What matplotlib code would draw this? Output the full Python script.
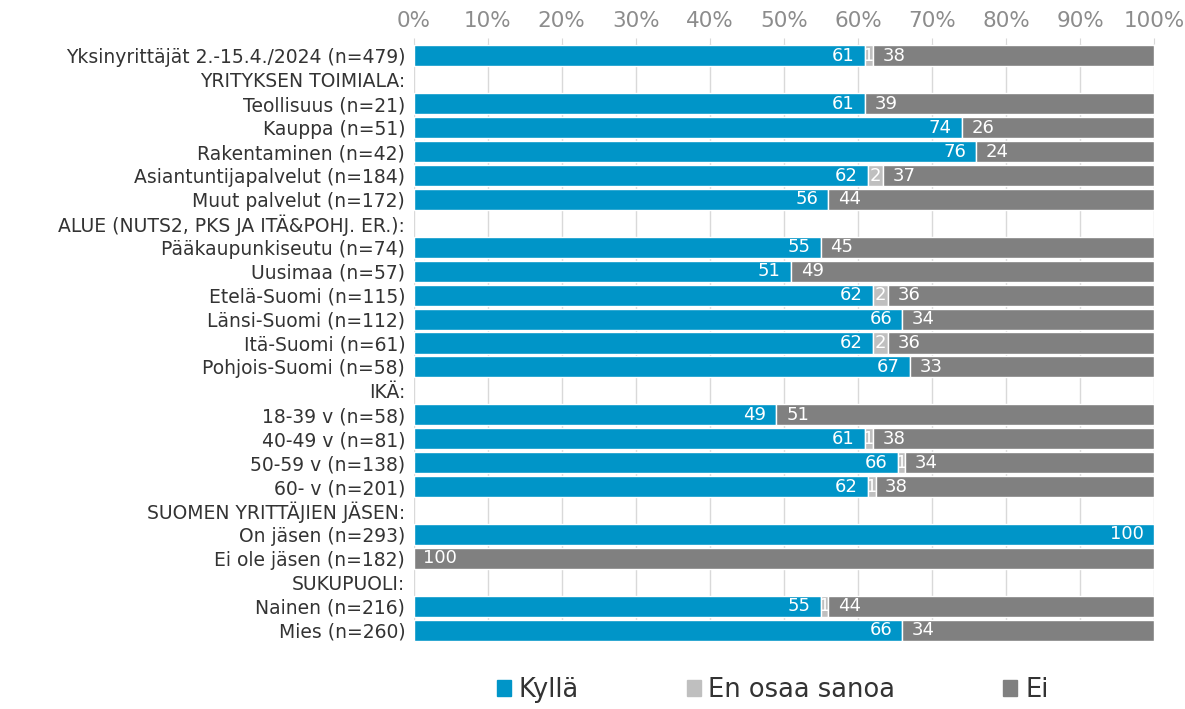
import matplotlib.pyplot as plt
import numpy as np

plt.rcParams['font.family'] = ['DejaVu Sans']

labels = ["Yksinyrittäjät 2.-15.4./2024 (n=479)", "YRITYKSEN TOIMIALA:",
          "Teollisuus (n=21)", "Kauppa (n=51)", "Rakentaminen (n=42)",
          "Asiantuntijapalvelut (n=184)", "Muut palvelut (n=172)",
          "ALUE (NUTS2, PKS JA ITÄ&POHJ. ER.):",
          "Pääkaupunkiseutu (n=74)", "Uusimaa (n=57)", "Etelä-Suomi (n=115)",
          "Länsi-Suomi (n=112)", "Itä-Suomi (n=61)", "Pohjois-Suomi (n=58)",
          "IKÄ:", "18-39 v (n=58)", "40-49 v (n=81)", "50-59 v (n=138)", "60- v (n=201)",
          "SUOMEN YRITTÄJIEN JÄSEN:", "On jäsen (n=293)", "Ei ole jäsen (n=182)",
          "SUKUPUOLI:", "Nainen (n=216)", "Mies (n=260)"]
# None = header row without bar
kylla = [61, None, 61, 74, 76, 62, 56, None, 55, 51, 62, 66, 62, 67,
         None, 49, 61, 66, 62, None, 100, 0, None, 55, 66]
eos = [1, None, 0, 0, 0, 2, 0, None, 0, 0, 2, 0, 2, 0,
       None, 0, 1, 1, 1, None, 0, 0, None, 1, 0]
ei = [38, None, 39, 26, 24, 37, 44, None, 45, 49, 36, 34, 36, 33,
      None, 51, 38, 34, 38, None, 0, 100, None, 44, 34]

series = ["Kyllä", "En osaa sanoa", "Ei"]
colors = ["#0095C8", "#BFBFBF", "#808080"]

fig = plt.figure(figsize=(11.85, 7.09), dpi=100)
ax = fig.add_axes([0.349, 0.0945, 0.625, 0.8435])

y = np.arange(len(labels))
for i in range(len(labels)):
    if kylla[i] is None:
        continue
    vals = np.array([kylla[i], eos[i], ei[i]], dtype=float)
    pct = vals / vals.sum() * 100
    left = 0
    for j in range(3):
        if pct[j] > 0:
            ax.barh(y[i], pct[j], left=left, height=0.88, color=colors[j],
                    edgecolor="white", linewidth=1, zorder=2)
            if j == 0:
                ax.text(left + pct[j] - 1.4, y[i], f"{vals[j]:.0f}", ha="right",
                        va="center", color="white", fontsize=13, zorder=3)
            elif j == 1:
                ax.text(left + pct[j] / 2, y[i], f"{vals[j]:.0f}", ha="center",
                        va="center", color="white", fontsize=13, zorder=3)
            else:
                ax.text(left + 1.3, y[i], f"{vals[j]:.0f}", ha="left",
                        va="center", color="white", fontsize=13, zorder=3)
        left += pct[j]

ax.set_xlim(0, 100)
ax.set_ylim(len(labels) - 0.5, -0.5)
ax.set_yticks(y)
ax.set_yticklabels(labels, fontsize=13.5, color="#333333")
ax.tick_params(axis="y", length=0, pad=6)
ax.xaxis.tick_top()
ax.set_xticks(np.arange(0, 101, 10))
ax.set_xticklabels([f"{v}%" for v in range(0, 101, 10)], fontsize=15.5, color="#8C8C8C")
ax.tick_params(axis="x", length=4, color="#D9D9D9", pad=5)
ax.grid(axis="x", color="#D9D9D9", linewidth=1, zorder=0)
for s in ax.spines.values():
    s.set_visible(False)

handles = [plt.Rectangle((0, 0), 1, 1, color=c) for c in colors]
fig.legend(handles, series, loc="center left", bbox_to_anchor=(0.419, 0.027), ncol=3,
           frameon=False, fontsize=18.5, handlelength=0.55, handleheight=0.55,
           handletextpad=0.3, columnspacing=4.2, labelcolor="#333333",
           borderaxespad=0, borderpad=0)

fig.savefig("out.png", dpi=100)
